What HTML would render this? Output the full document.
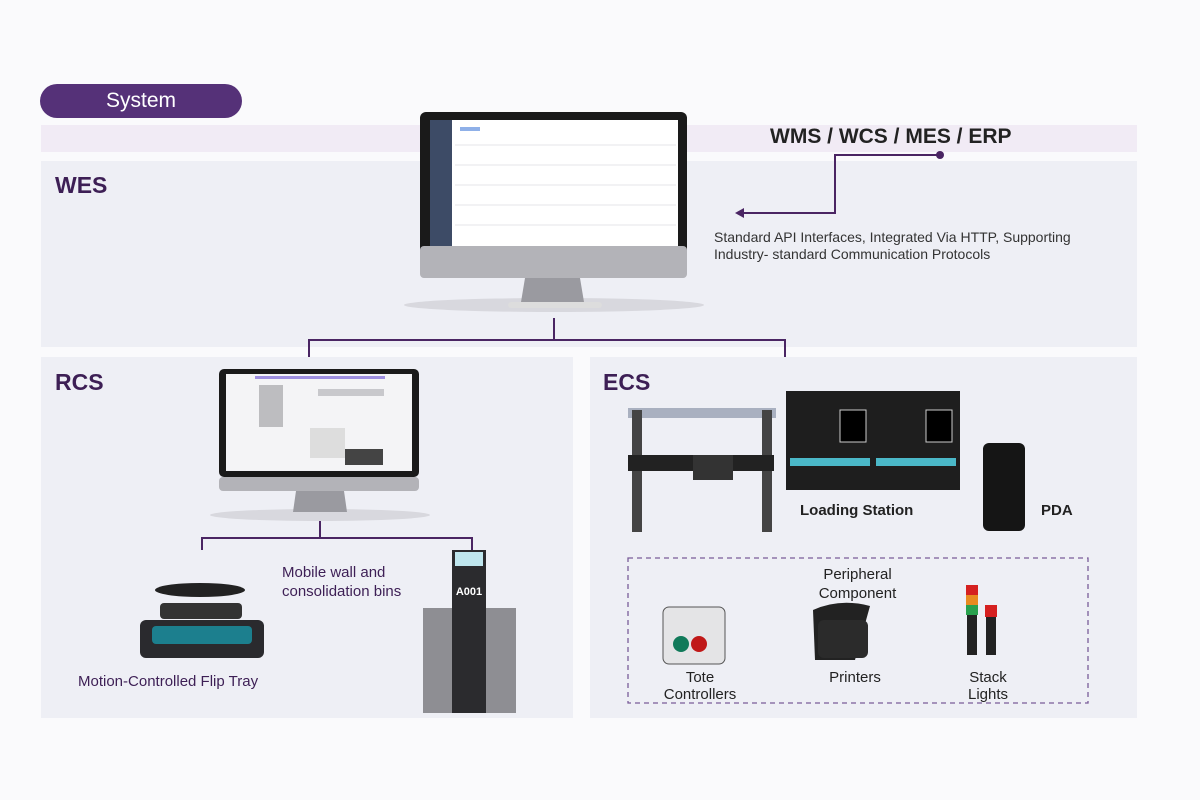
<!DOCTYPE html>
<html><head><meta charset="utf-8"><style>
body{margin:0;width:1200px;height:800px;background:#fafafc;position:relative;overflow:hidden;font-family:"Liberation Sans",sans-serif}
.a{position:absolute}
.panel{position:absolute;background:#eeeff5}
.h{position:absolute;color:#3d1f55;font-size:23px;font-weight:bold}
.t{position:absolute;color:#3d1f55;font-size:15px}
.k{position:absolute;color:#222;font-size:15px;text-align:center}
</style></head><body>
<div class="a" style="left:40px;top:84px;width:202px;height:34px;border-radius:17px;background:#553178;color:#fff;font-size:21px;text-align:center;line-height:34px">System</div>
<div class="a" style="left:41px;top:125px;width:1096px;height:27px;background:#f1ebf5"></div>
<div class="panel" style="left:41px;top:161px;width:1096px;height:186px"></div>
<div class="panel" style="left:41px;top:357px;width:532px;height:361px"></div>
<div class="panel" style="left:590px;top:357px;width:547px;height:361px"></div>
<div class="h" style="left:55px;top:172px">WES</div>
<div class="h" style="left:55px;top:369px">RCS</div>
<div class="h" style="left:603px;top:369px">ECS</div>
<div class="a" style="left:770px;top:125px;font-size:21px;font-weight:bold;color:#222">WMS / WCS / MES / ERP</div>
<div class="a" style="left:714px;top:229px;font-size:14px;color:#333;line-height:17px">Standard API Interfaces, Integrated Via HTTP, Supporting<br>Industry- standard Communication Protocols</div>
<svg class="a" style="left:0;top:0" width="1200" height="800">
<g stroke="#4a2563" stroke-width="2" fill="none">
<polyline points="940,155 835,155 835,213 742,213"/>
<polyline points="554,318 554,340"/><polyline points="309,357 309,340 785,340 785,357"/>
<polyline points="320,490 320,538"/><polyline points="202,550 202,538 472,538 472,550"/>
</g>
<circle cx="940" cy="155" r="4" fill="#4a2563"/>
<polygon points="735,213 744,208 744,218" fill="#4a2563"/>
<rect x="628" y="558" width="460" height="145" fill="none" stroke="#7a5c99" stroke-width="1.3" stroke-dasharray="5,4"/>
<ellipse cx="554" cy="305" rx="150" ry="7" fill="#d8d8de"/>
<rect x="420" y="112" width="267" height="166" rx="6" fill="#1a1a1a"/>
<rect x="430" y="120" width="248" height="126" fill="#fff"/>
<rect x="430" y="120" width="22" height="126" fill="#3d4b66"/>
<g stroke="#e4e4e8" stroke-width="1">
<line x1="455" y1="145" x2="676" y2="145"/><line x1="455" y1="165" x2="676" y2="165"/><line x1="455" y1="185" x2="676" y2="185"/><line x1="455" y1="205" x2="676" y2="205"/><line x1="455" y1="225" x2="676" y2="225"/>
</g>
<rect x="460" y="127" width="20" height="4" fill="#8fb0e8"/>
<rect x="420" y="246" width="267" height="32" rx="4" fill="#b3b3b8"/>
<polygon points="525,278 580,278 584,302 521,302" fill="#9a9aa0"/>
<rect x="508" y="302" width="94" height="6" rx="3" fill="#ddd"/>
<ellipse cx="320" cy="515" rx="110" ry="6" fill="#d8d8de"/>
<rect x="219" y="369" width="200" height="108" rx="5" fill="#1a1a1a"/>
<rect x="226" y="374" width="186" height="97" fill="#f4f4f6"/>
<rect x="255" y="376" width="130" height="3" fill="#9e8fe0"/>
<rect x="259" y="385" width="24" height="42" fill="#bdbdc0"/>
<rect x="318" y="389" width="66" height="7" fill="#c8c8cc"/>
<rect x="310" y="428" width="35" height="30" fill="#ddd"/>
<rect x="345" y="449" width="38" height="16" fill="#444"/>
<rect x="219" y="477" width="200" height="14" rx="4" fill="#b3b3b8"/>
<polygon points="296,491 344,491 347,512 293,512" fill="#9a9aa0"/>
<ellipse cx="200" cy="590" rx="45" ry="7" fill="#222"/>
<rect x="160" y="603" width="82" height="16" rx="4" fill="#333"/>
<rect x="140" y="620" width="124" height="38" rx="6" fill="#2a2a2e"/>
<rect x="152" y="626" width="100" height="18" rx="4" fill="#1c7f8e"/>
<rect x="423" y="608" width="93" height="105" fill="#8e8e93"/>
<rect x="452" y="550" width="34" height="163" fill="#2b2b2e"/>
<rect x="455" y="552" width="28" height="14" fill="#bfe6ee"/>
<text x="469" y="595" font-size="11" fill="#fff" text-anchor="middle" font-weight="bold" font-family="Liberation Sans">A001</text>
<rect x="628" y="408" width="148" height="10" fill="#a9b0c0"/>
<rect x="632" y="410" width="10" height="122" fill="#444"/>
<rect x="762" y="410" width="10" height="122" fill="#444"/>
<rect x="628" y="455" width="146" height="16" fill="#222"/>
<rect x="693" y="455" width="40" height="25" fill="#333"/>
<rect x="786" y="391" width="174" height="99" fill="#1e1e1e"/>
<rect x="840" y="410" width="26" height="32" fill="#000" stroke="#ccc"/>
<rect x="926" y="410" width="26" height="32" fill="#000" stroke="#ccc"/>
<rect x="790" y="458" width="80" height="8" fill="#4bb8c8"/><rect x="876" y="458" width="80" height="8" fill="#4bb8c8"/>
<rect x="983" y="443" width="42" height="88" rx="6" fill="#151515"/>
<rect x="663" y="607" width="62" height="57" rx="6" fill="#e4e4e6" stroke="#555"/>
<circle cx="681" cy="644" r="8" fill="#117a5a"/><circle cx="699" cy="644" r="8" fill="#c01818"/>
<path d="M813 610 Q840 598 870 606 L855 660 L815 660 Z" fill="#222"/>
<rect x="818" y="620" width="50" height="38" rx="6" fill="#2b2b2b"/>
<rect x="966" y="585" width="12" height="10" fill="#d52020"/><rect x="966" y="595" width="12" height="10" fill="#e88a20"/><rect x="966" y="605" width="12" height="10" fill="#29a04d"/>
<rect x="967" y="615" width="10" height="40" fill="#222"/>
<rect x="985" y="605" width="12" height="12" fill="#d52020"/><rect x="986" y="617" width="10" height="38" fill="#222"/>
</svg>
<div class="t" style="left:282px;top:563px;line-height:19px">Mobile wall and<br>consolidation bins</div>
<div class="t" style="left:78px;top:673px">Motion-Controlled Flip Tray</div>
<div class="k" style="left:800px;top:502px;font-weight:bold;color:#222">Loading Station</div>
<div class="k" style="left:1041px;top:502px;font-weight:bold">PDA</div>
<div class="k" style="left:800px;top:565px;width:115px;line-height:19px">Peripheral<br>Component</div>
<div class="k" style="left:650px;top:669px;width:100px;line-height:17px">Tote<br>Controllers</div>
<div class="k" style="left:805px;top:669px;width:100px">Printers</div>
<div class="k" style="left:938px;top:669px;width:100px;line-height:17px">Stack<br>Lights</div>
</body></html>
